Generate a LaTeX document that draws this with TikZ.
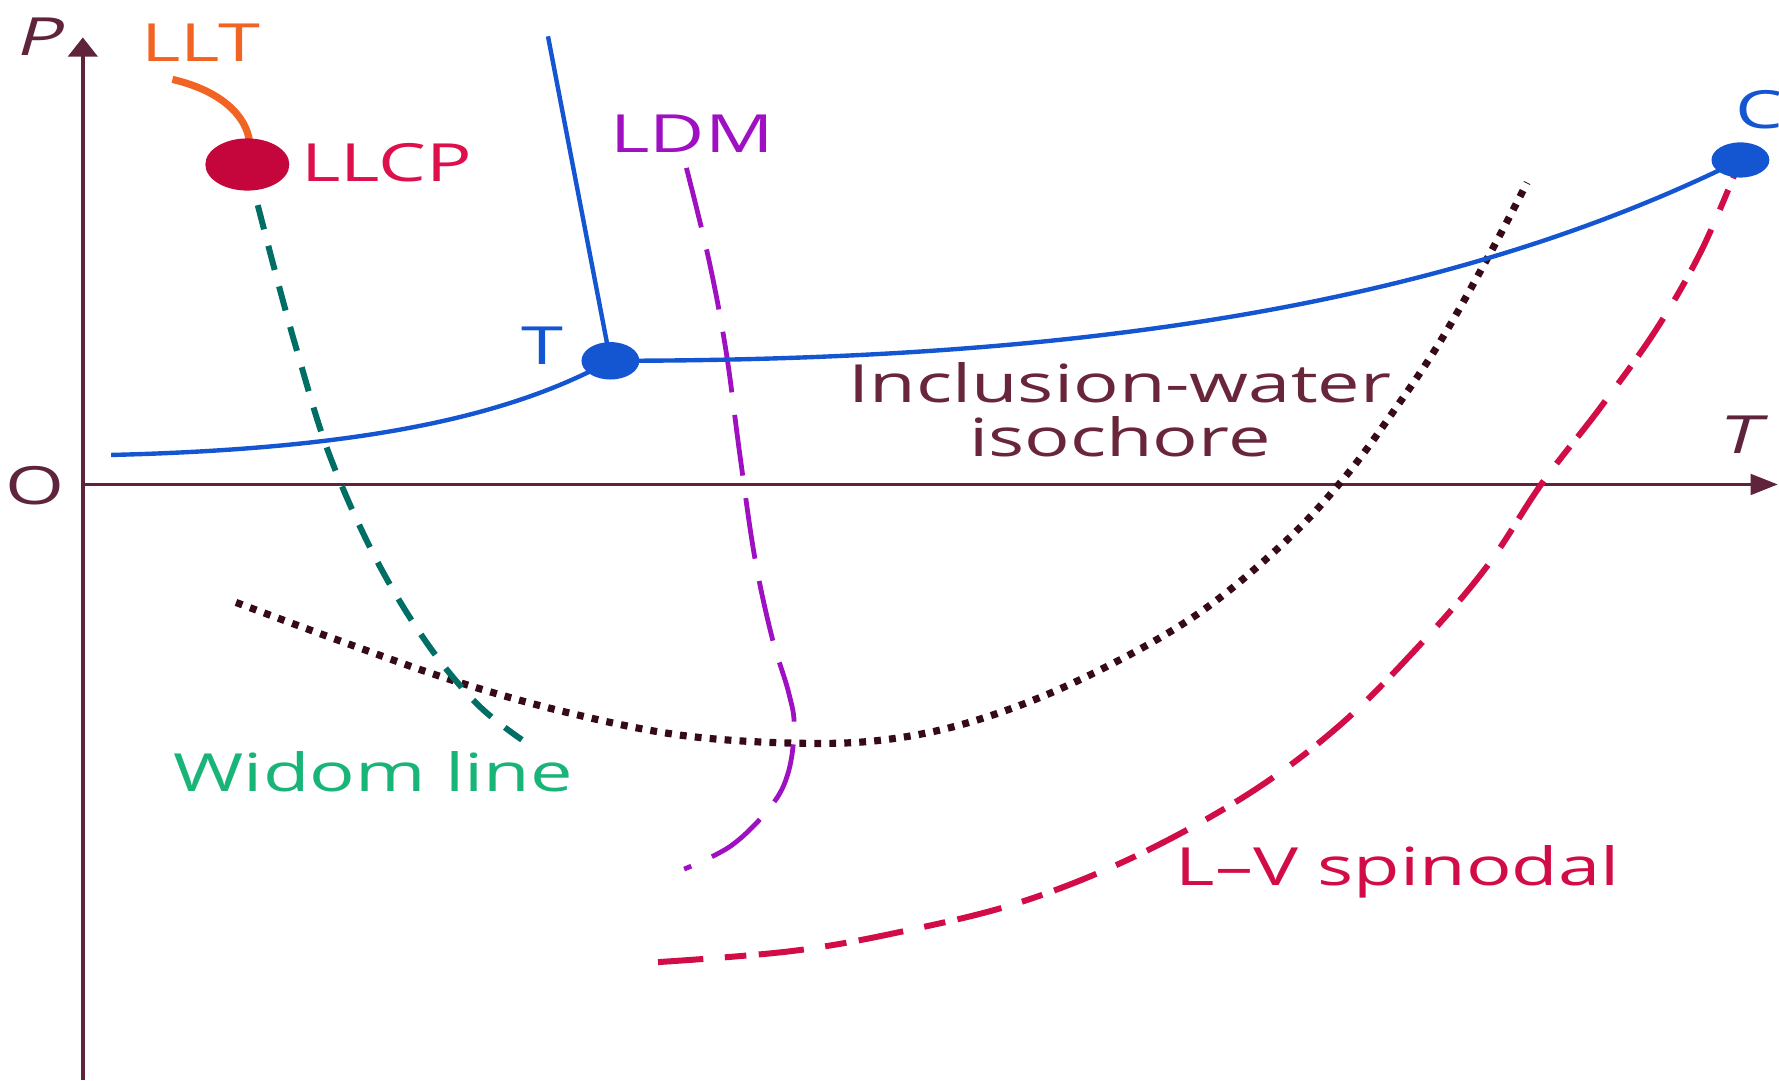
\documentclass[tikz,border=0pt]{standalone}
\usepackage{fontspec}
\setmainfont{Open Sans}
\newfontfamily\slfont[FakeSlant=0.2]{Open Sans}
\usetikzlibrary{arrows.meta,shapes.geometric}
\definecolor{axisc}{RGB}{95,35,60}
\definecolor{isotxt}{RGB}{105,38,58}
\definecolor{isoc}{RGB}{55,10,25}
\definecolor{bluec}{RGB}{20,85,210}
\definecolor{llcpc}{RGB}{196,6,60}
\definecolor{llcptxt}{RGB}{222,16,76}
\definecolor{lltc}{RGB}{242,100,35}
\definecolor{widomc}{RGB}{0,110,100}
\definecolor{widomtxt}{RGB}{25,180,120}
\definecolor{ldmc}{RGB}{160,16,195}
\definecolor{spinc}{RGB}{210,12,70}
\newcommand{\widetxt}[1]{\scalebox{1.44}[1]{#1}}
\begin{document}
\begin{tikzpicture}[x=0.1mm,y={(0,-0.1mm)},
  lbl/.style={font=\fontsize{13.2}{13.4}\selectfont, inner sep=0pt, align=center},
  dotnode/.style={ellipse, inner sep=0pt, draw=none},
  axisline/.style={draw=axisc, line width=0.9pt},
  blueline/.style={draw=bluec, line width=1.1pt},
  widomline/.style={draw=widomc, line width=1.5pt, dash pattern=on 2.2mm off 1.5mm},
  ldmline/.style={draw=ldmc, line width=1.2pt, dash pattern=on 5.4mm off 2mm},
  isoline/.style={draw=isoc, line width=1.8pt, dash pattern=on 0.6mm off 0.72mm},
  spinline/.style={draw=spinc, line width=1.5pt, dash pattern=on 4mm off 1.9mm on 1.9mm off 1.1mm},
  lltline/.style={draw=lltc, line width=1.8pt}]
\useasboundingbox (0,0) rectangle (1568,952);
\clip (0,0) rectangle (1568,952);

% key coordinates
\coordinate (llcpc) at (218,145);
\coordinate (tpc) at (538,318);
\coordinate (cpc) at (1534,141);
\coordinate (ytop) at (73,33);
\coordinate (ybot) at (73,952);
\coordinate (xleft) at (73,427);
\coordinate (xright) at (1567,427);
\coordinate (blueleft) at (98,401);
\coordinate (bluetop) at (483,32);
\coordinate (lltstart) at (152,70);
\coordinate (ldmtop) at (605,148);
\coordinate (isostart) at (208,531);
\coordinate (spinend) at (580,848);

% axes
\draw[axisline,-{Triangle[width=2.6mm,length=1.7mm]}] (ybot) -- (ytop);
\draw[axisline,-{Triangle[width=1.8mm,length=2.4mm]}] (xleft) -- (xright);

% isochore (dotted)
\draw[isoline] plot[smooth,tension=0.6] coordinates {(isostart) (300,565) (400,600) (500,628) (600,648) (700,655) (780,652) (860,635) (950,600) (1050,545) (1130,480) (1185,421) (1230,360) (1270,300) (1313,224) (1346,161)};

% Widom line
\draw[widomline] plot[smooth,tension=0.6] coordinates {(llcpc) (240,230) (262,310) (290,400) (330,490) (375,565) (420,620) (460,652)};

% LDM
\draw[ldmline] plot[smooth,tension=0.6] coordinates {(ldmtop) (625,230) (640,310) (652,400) (665,490) (680,560) (695,610) (700,640) (695,680) (680,710) (645,745) (603,766)};

% L-V spinodal
\draw[spinline] plot[smooth,tension=0.6] coordinates {(spinend) (700,838) (800,820) (900,795) (1000,755) (1100,700) (1180,640) (1250,570) (1310,500) (1359,426) (1410,360) (1460,290) (1500,220) (cpc)};

% blue coexistence lines
\draw[blueline] (bluetop) -- (tpc);
\draw[blueline] (blueleft) .. controls (300,396) and (440,372) .. (tpc);
\draw[blueline] (tpc) .. controls (900,318) and (1250,282) .. (cpc);

% LLT curve
\draw[lltline] (lltstart) .. controls (195,80) and (217,102) .. (220,125);

% dots
\node[dotnode, fill=llcpc, minimum width=7.4mm, minimum height=4.6mm] (llcp) at (llcpc) {};
\node[dotnode, fill=bluec, minimum width=5.1mm, minimum height=3.3mm] (tp) at (tpc) {};
\node[dotnode, fill=bluec, minimum width=5.1mm, minimum height=3.1mm] (cp) at (cpc) {};

% labels
\node[lbl, text=axisc] (plabel) at (33,32) {\widetxt{\slfont P}};
\node[lbl, text=axisc] (olabel) at (31,428) {\widetxt{O}};
\node[lbl, text=axisc] (tlabel) at (1531,383) {\widetxt{\slfont T}};
\node[lbl, text=lltc] (lltlabel) at (177,38) {\widetxt{LLT}};
\node[lbl, text=llcptxt] (llcplabel) at (341,143) {\widetxt{LLCP}};
\node[lbl, text=ldmc] (ldmlabel) at (610,118) {\widetxt{LDM}};
\node[lbl, text=bluec] (tplabel) at (478,305) {\widetxt{T}};
\node[lbl, text=bluec] (cplabel) at (1551,97) {\widetxt{C}};
\node[lbl, text=isotxt] (isolabel) at (987,361) {\widetxt{Inclusion-water}\\\widetxt{isochore}};
\node[lbl, text=widomtxt] (widomlabel) at (329,680) {\widetxt{Widom line}};
\node[lbl, text=spinc] (spinlabel) at (1232,768) {\widetxt{L–V spinodal}};
\end{tikzpicture}
\end{document}
